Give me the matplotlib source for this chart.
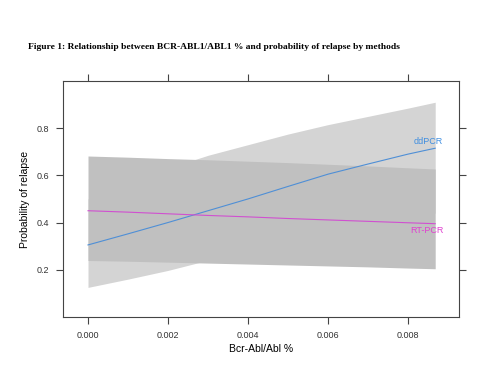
import matplotlib
matplotlib.use("Agg")
import matplotlib.pyplot as plt

# values
x = [0.0, 0.001, 0.002, 0.003, 0.004, 0.005, 0.006, 0.007, 0.008, 0.00868]

dd_fit = [0.305, 0.352, 0.40, 0.45, 0.50, 0.553, 0.605, 0.648, 0.69, 0.715]
dd_lo = [0.125, 0.16, 0.197, 0.24, 0.28, 0.315, 0.35, 0.385, 0.42, 0.44]
dd_hi = [0.50, 0.57, 0.63, 0.685, 0.73, 0.775, 0.815, 0.85, 0.885, 0.91]

rt_fit = [0.45, 0.444, 0.437, 0.43, 0.424, 0.417, 0.411, 0.405, 0.399, 0.395]
rt_lo = [0.239, 0.236, 0.232, 0.228, 0.224, 0.22, 0.216, 0.212, 0.207, 0.204]
rt_hi = [0.682, 0.677, 0.671, 0.666, 0.66, 0.654, 0.647, 0.64, 0.632, 0.627]

xticks = [0.0, 0.002, 0.004, 0.006, 0.008]
yticks = [0.2, 0.4, 0.6, 0.8]

fig = plt.figure(figsize=(5, 3.75), dpi=100)
ax = fig.add_axes([0.126, 0.155, 0.792, 0.629])

ax.fill_between(x, dd_lo, dd_hi, color='#d4d4d4', lw=0)
ax.fill_between(x, rt_lo, rt_hi, color='#c0c0c0', lw=0)
ax.plot(x, dd_fit, color='#4f8fd6', lw=0.8)
ax.plot(x, rt_fit, color='#d050d0', lw=0.8)

ax.text(x[-1] + 0.0002, dd_fit[-1] + 0.008, 'ddPCR', color='#3f8ee0',
        fontsize=6.5, ha='right', va='bottom', family='Liberation Sans')
ax.text(x[-1] + 0.0002, rt_fit[-1] - 0.008, 'RT-PCR', color='#e040d0',
        fontsize=6.5, ha='right', va='top', family='Liberation Sans')

ax.set_xlim(-0.000625, 0.009275)
ax.set_ylim(0, 1)
ax.set_xticks(xticks)
ax.set_xticklabels(['%.3f' % v for v in xticks])
ax.set_yticks(yticks)
ax.set_yticklabels(['%.1f' % v for v in yticks])
ax.tick_params(direction='out', length=5, width=0.8, colors='#444444',
               labelsize=6.5, top=True, right=True, pad=5)
for lab in ax.get_xticklabels() + ax.get_yticklabels():
    lab.set_family('Liberation Sans')
    lab.set_color('#333333')
for s in ax.spines.values():
    s.set_color('#444444')
    s.set_linewidth(0.8)

ax.set_xlabel('Bcr-Abl/Abl %', fontsize=7.5, family='Liberation Sans', labelpad=3)
ax.set_ylabel('Probability of relapse', fontsize=7.5, family='Liberation Sans', labelpad=5)

fig.text(0.056, 0.874, 'Figure 1: Relationship between BCR-ABL1/ABL1 % and probability of relapse by methods',
         fontsize=6.8, fontweight='bold', family='Liberation Serif', va='center')

fig.savefig('out.png', dpi=100, facecolor='white')
